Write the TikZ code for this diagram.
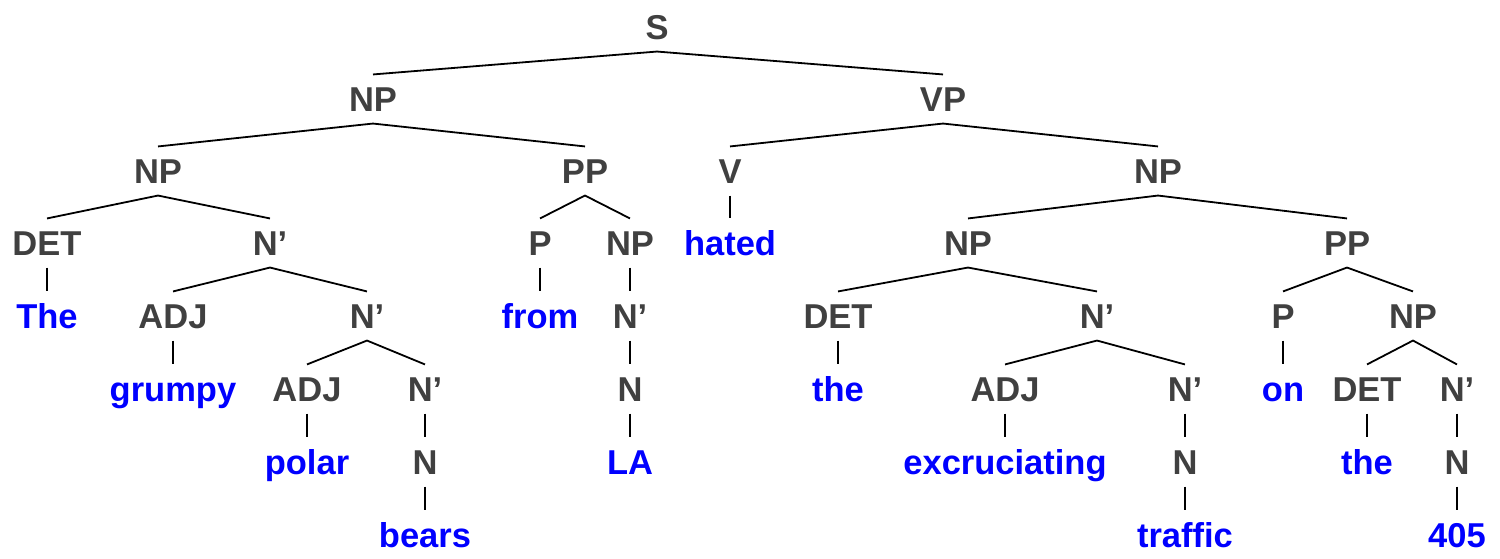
\documentclass[tikz,border=0pt]{standalone}
\usepackage{fontspec}
\setmainfont{Liberation Sans}
\definecolor{labgrey}{HTML}{404040}
\definecolor{wordblue}{HTML}{0000FF}
\begin{document}
\begin{tikzpicture}[x=1pt,y=1pt,
  base/.style={inner xsep=0pt,inner ysep=12pt,text height=24.7pt,text depth=0pt,
    font=\fontsize{34.5}{40}\selectfont\bfseries,anchor=center},
  cat/.style={base,text=labgrey},
  word/.style={base,text=wordblue},
  br/.style={draw=black,line width=1.8pt}]
\useasboundingbox (0,0) rectangle (1500,-559);
% level 0
\node[cat] (S) at (657,-27) {S};
% level 1
\node[cat] (np1) at (373,-99) {NP};
\node[cat] (vp) at (943,-99) {VP};
% level 2
\node[cat] (np2) at (158,-171) {NP};
\node[cat] (pp1) at (585,-171) {PP};
\node[cat] (v) at (730,-171) {V};
\node[cat] (np3) at (1158,-171) {NP};
% level 3
\node[cat] (det1) at (47,-243) {DET};
\node[cat] (nb1) at (270,-243) {N’};
\node[cat] (p1) at (540,-243) {P};
\node[cat] (np4) at (630,-243) {NP};
\node[word] (hated) at (730,-243) {hated};
\node[cat] (np5) at (968,-243) {NP};
\node[cat] (pp2) at (1347,-243) {PP};
% level 4
\node[word] (The) at (47,-316) {The};
\node[cat] (adj1) at (173,-316) {ADJ};
\node[cat] (nb2) at (367,-316) {N’};
\node[word] (from) at (540,-316) {from};
\node[cat] (nb3) at (630,-316) {N’};
\node[cat] (det2) at (838,-316) {DET};
\node[cat] (nb4) at (1097,-316) {N’};
\node[cat] (p2) at (1283,-316) {P};
\node[cat] (np6) at (1413,-316) {NP};
% level 5
\node[word] (grumpy) at (173,-389) {grumpy};
\node[cat] (adj2) at (307,-389) {ADJ};
\node[cat] (nb5) at (425,-389) {N’};
\node[cat] (n1) at (630,-389) {N};
\node[word] (the1) at (838,-389) {the};
\node[cat] (adj3) at (1005,-389) {ADJ};
\node[cat] (nb6) at (1185,-389) {N’};
\node[word] (on) at (1283,-389) {on};
\node[cat] (det3) at (1367,-389) {DET};
\node[cat] (nb7) at (1457,-389) {N’};
% level 6
\node[word] (polar) at (307,-462) {polar};
\node[cat] (n2) at (425,-462) {N};
\node[word] (LA) at (630,-462) {LA};
\node[word] (excr) at (1005,-462) {excruciating};
\node[cat] (n3) at (1185,-462) {N};
\node[word] (the2) at (1367,-462) {the};
\node[cat] (n4) at (1457,-462) {N};
% level 7
\node[word] (bears) at (425,-535) {bears};
\node[word] (traffic) at (1185,-535) {traffic};
\node[word] (w405) at (1457,-535) {405};
% branches
\draw[br] (np1.north) -- (S.south) -- (vp.north);
\draw[br] (np2.north) -- (np1.south) -- (pp1.north);
\draw[br] (v.north) -- (vp.south) -- (np3.north);
\draw[br] (det1.north) -- (np2.south) -- (nb1.north);
\draw[br] (p1.north) -- (pp1.south) -- (np4.north);
\draw[br] (v.south) -- (hated.north);
\draw[br] (np5.north) -- (np3.south) -- (pp2.north);
\draw[br] (det1.south) -- (The.north);
\draw[br] (adj1.north) -- (nb1.south) -- (nb2.north);
\draw[br] (p1.south) -- (from.north);
\draw[br] (np4.south) -- (nb3.north);
\draw[br] (det2.north) -- (np5.south) -- (nb4.north);
\draw[br] (p2.north) -- (pp2.south) -- (np6.north);
\draw[br] (adj1.south) -- (grumpy.north);
\draw[br] (adj2.north) -- (nb2.south) -- (nb5.north);
\draw[br] (nb3.south) -- (n1.north);
\draw[br] (det2.south) -- (the1.north);
\draw[br] (adj3.north) -- (nb4.south) -- (nb6.north);
\draw[br] (p2.south) -- (on.north);
\draw[br] (det3.north) -- (np6.south) -- (nb7.north);
\draw[br] (adj2.south) -- (polar.north);
\draw[br] (nb5.south) -- (n2.north);
\draw[br] (n1.south) -- (LA.north);
\draw[br] (adj3.south) -- (excr.north);
\draw[br] (nb6.south) -- (n3.north);
\draw[br] (det3.south) -- (the2.north);
\draw[br] (nb7.south) -- (n4.north);
\draw[br] (n2.south) -- (bears.north);
\draw[br] (n3.south) -- (traffic.north);
\draw[br] (n4.south) -- (w405.north);
\end{tikzpicture}
\end{document}
